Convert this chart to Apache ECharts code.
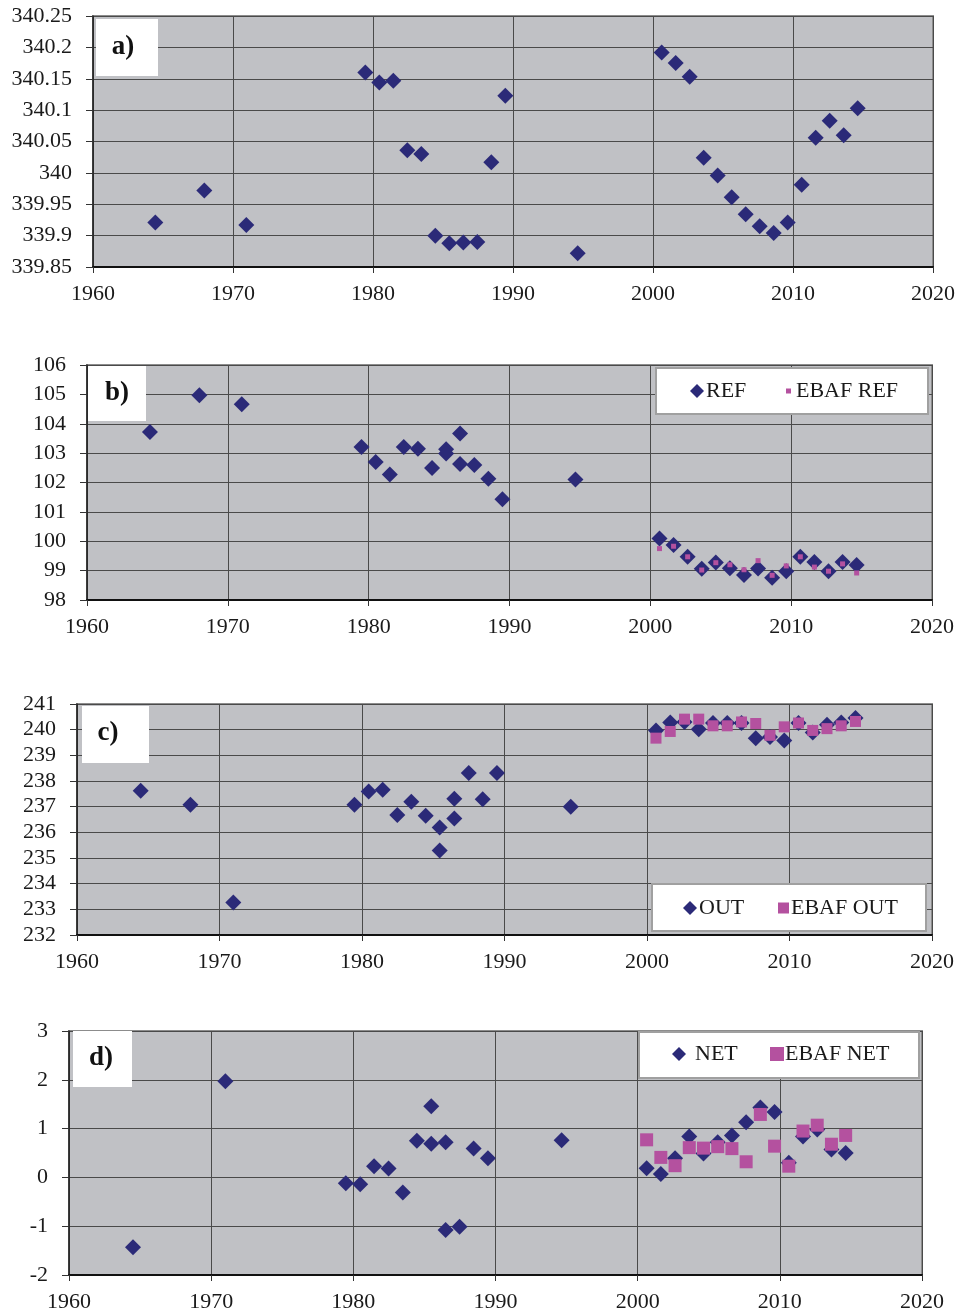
<!DOCTYPE html>
<html>
<head>
<meta charset="utf-8">
<script src="https://cdn.jsdelivr.net/npm/echarts@6/dist/echarts.min.js"></script>
<style>
html,body{margin:0;padding:0;background:#fff;}
#chart{width:964px;height:1314px;}
</style>
</head>
<body>
<div id="chart"></div>
<script>
// ---------- data ----------
const yearsA = [1964.45, 1967.95, 1970.95, 1979.45, 1980.45, 1981.45, 1982.45, 1983.45, 1984.45, 1985.45, 1986.45, 1987.45, 1988.45, 1989.45, 1994.62,
  2000.62, 2001.62, 2002.62, 2003.62, 2004.62, 2005.62, 2006.62, 2007.62, 2008.62, 2009.62, 2010.62, 2011.62, 2012.62, 2013.62, 2014.62];
const refA = [339.921, 339.972, 339.917, 340.160, 340.144, 340.147, 340.036, 340.030, 339.900, 339.888, 339.889, 339.890, 340.017, 340.123, 339.872,
  340.192, 340.175, 340.153, 340.024, 339.996, 339.961, 339.934, 339.915, 339.904, 339.921, 339.981, 340.056, 340.083, 340.060, 340.103];

const yearsB = [1964.47, 1967.98, 1970.99, 1979.49, 1980.5, 1981.5, 1982.49, 1983.5, 1984.5, 1985.5, 1985.5, 1986.49, 1986.49, 1987.5, 1988.5, 1989.5, 1994.68,
  2000.65, 2001.65, 2002.65, 2003.65, 2004.65, 2005.65, 2006.65, 2007.65, 2008.65, 2009.65, 2010.65, 2011.65, 2012.65, 2013.65, 2014.65];
const refB = [103.72, 104.97, 104.66, 103.21, 102.70, 102.27, 103.21, 103.15, 102.49, 103.13, 102.99, 103.67, 102.63, 102.60, 102.13, 101.43, 102.10,
  100.09, 99.87, 99.47, 99.06, 99.28, 99.08, 98.85, 99.07, 98.76, 98.98, 99.47, 99.29, 98.98, 99.29, 99.19];
const ebafYearsB = [2000.65, 2001.65, 2002.65, 2003.65, 2004.65, 2005.65, 2006.65, 2007.65, 2008.65, 2009.65, 2010.65, 2011.65, 2012.65, 2013.65, 2014.65];
const ebafRefB = [99.75, 99.83, 99.47, 99.02, 99.27, 99.20, 99.03, 99.34, 98.84, 99.16, 99.47, 99.12, 98.98, 99.23, 98.92];

const yearsC = [1964.47, 1967.96, 1970.97, 1979.47, 1980.47, 1981.45, 1982.48, 1983.46, 1984.47, 1985.45, 1985.45, 1986.48, 1986.48, 1987.49, 1988.47, 1989.47, 1994.65,
  2000.63, 2001.63, 2002.63, 2003.63, 2004.63, 2005.63, 2006.63, 2007.63, 2008.63, 2009.63, 2010.63, 2011.63, 2012.63, 2013.63, 2014.63];
const outC = [237.62, 237.07, 233.27, 237.07, 237.59, 237.66, 236.68, 237.19, 236.65, 236.19, 235.29, 237.31, 236.54, 238.31, 237.29, 238.31, 237.00,
  239.97, 240.28, 240.30, 240.02, 240.26, 240.26, 240.26, 239.67, 239.71, 239.58, 240.26, 239.89, 240.19, 240.28, 240.45];
const ebafYearsC = [2000.63, 2001.63, 2002.63, 2003.63, 2004.63, 2005.63, 2006.63, 2007.63, 2008.63, 2009.63, 2010.63, 2011.63, 2012.63, 2013.63, 2014.63];
const ebafOutC = [239.67, 239.93, 240.41, 240.41, 240.15, 240.15, 240.30, 240.24, 239.78, 240.11, 240.26, 239.97, 240.04, 240.15, 240.32];

const yearsD = [1964.5, 1971.0, 1979.47, 1980.48, 1981.46, 1982.48, 1983.48, 1984.47, 1985.48, 1985.48, 1986.49, 1986.49, 1987.47, 1988.46, 1989.47, 1994.65,
  2000.63, 2001.63, 2002.63, 2003.63, 2004.63, 2005.63, 2006.63, 2007.63, 2008.63, 2009.63, 2010.63, 2011.63, 2012.63, 2013.63, 2014.63];
const netD = [-1.43, 1.97, -0.12, -0.14, 0.23, 0.18, -0.31, 0.75, 1.46, 0.69, 0.72, -1.08, -1.01, 0.59, 0.39, 0.76,
  0.19, 0.07, 0.39, 0.84, 0.49, 0.72, 0.86, 1.13, 1.43, 1.34, 0.30, 0.84, 0.98, 0.57, 0.50];
const ebafYearsD = [2000.63, 2001.63, 2002.63, 2003.63, 2004.63, 2005.63, 2006.63, 2007.63, 2008.63, 2009.63, 2010.63, 2011.63, 2012.63, 2013.63, 2014.63];
const ebafNetD = [0.77, 0.41, 0.24, 0.61, 0.60, 0.63, 0.59, 0.32, 1.29, 0.64, 0.23, 0.95, 1.07, 0.68, 0.86];

const panelLabels = ['a)', 'b)', 'c)', 'd)'];
const yRanges = [[339.85, 340.25, 0.05], [98, 106, 1], [232, 241, 1], [-2, 3, 1]];
const xRange = [1960, 2020, 10];

// ---------- styling ----------
const NAVY = '#2b2a78';
const MAGENTA = '#b4519f';
const BG = '#c0c1c5';
const FONT = '"Liberation Serif", "Times New Roman", serif';

const grids = [
  {left: 93, right: 31, top: 16, height: 251},
  {left: 87, right: 32, top: 365, height: 235},
  {left: 77, right: 32, top: 704, height: 231},
  {left: 69, right: 42, top: 1031, height: 244}
];

function pairs(xs, ys) { return xs.map((x, i) => [x, ys[i]]); }

const option = {
  animation: false,
  backgroundColor: '#ffffff',
  grid: grids.map(g => Object.assign({show: true, backgroundColor: BG, borderColor: '#8c8c8c', borderWidth: 2}, g)),
  xAxis: grids.map((g, i) => ({
    type: 'value', gridIndex: i, min: xRange[0], max: xRange[1], interval: xRange[2],
    axisLine: {show: true, onZero: false, lineStyle: {color: '#111', width: 2}},
    axisTick: {show: true, inside: false, length: 6, lineStyle: {color: '#333'}},
    splitLine: {show: true, lineStyle: {color: '#4a4a4a', width: 1}},
    axisLabel: {color: '#1a1a1a', fontFamily: FONT, fontSize: 22, margin: 16, formatter: v => String(v)}
  })),
  yAxis: grids.map((g, i) => ({
    type: 'value', gridIndex: i, min: yRanges[i][0], max: yRanges[i][1], interval: yRanges[i][2],
    axisLine: {show: true, onZero: false, lineStyle: {color: '#222', width: 1.5}},
    axisTick: {show: true, inside: false, length: 7, lineStyle: {color: '#333'}},
    splitLine: {show: true, lineStyle: {color: '#4a4a4a', width: 1}},
    axisLabel: {color: '#1a1a1a', fontFamily: FONT, fontSize: 22, margin: 21}
  })),
  legend: [
    {data: [{name: 'REF', icon: 'diamond'}], left: 690, top: 380, itemWidth: 14, itemHeight: 14, padding: 0, selectedMode: false,
      textStyle: {fontFamily: FONT, fontSize: 22, color: '#1a1a1a', padding: [0, 0, 0, -3]}},
    {data: [{name: 'EBAF REF', icon: 'rect'}], left: 786, top: 380, itemWidth: 5, itemHeight: 5, padding: 0, selectedMode: false,
      textStyle: {fontFamily: FONT, fontSize: 22, color: '#1a1a1a'}},
    {data: [{name: 'OUT', icon: 'diamond'}], left: 683, top: 897, itemWidth: 14, itemHeight: 14, padding: 0, selectedMode: false,
      textStyle: {fontFamily: FONT, fontSize: 22, color: '#1a1a1a', padding: [0, 0, 0, -3]}},
    {data: [{name: 'EBAF OUT', icon: 'rect'}], left: 778, top: 897, itemWidth: 11, itemHeight: 11, padding: 0, selectedMode: false,
      textStyle: {fontFamily: FONT, fontSize: 22, color: '#1a1a1a', padding: [0, 0, 0, -3]}},
    {data: [{name: 'NET', icon: 'diamond'}], left: 672, top: 1043, itemWidth: 14, itemHeight: 14, padding: 0, selectedMode: false,
      textStyle: {fontFamily: FONT, fontSize: 22, color: '#1a1a1a', padding: [0, 0, 0, 4]}},
    {data: [{name: 'EBAF NET', icon: 'rect'}], left: 770, top: 1043, itemWidth: 14, itemHeight: 14, padding: 0, selectedMode: false,
      textStyle: {fontFamily: FONT, fontSize: 22, color: '#1a1a1a', padding: [0, 0, 0, -4]}}
  ],
  series: [
    {name: 'REF a', type: 'scatter', xAxisIndex: 0, yAxisIndex: 0, symbol: 'diamond', symbolSize: 16,
      itemStyle: {color: NAVY, opacity: 1}, data: pairs(yearsA, refA)},
    {name: 'REF', type: 'scatter', xAxisIndex: 1, yAxisIndex: 1, symbol: 'diamond', symbolSize: 16,
      itemStyle: {color: NAVY, opacity: 1}, data: pairs(yearsB, refB)},
    {name: 'EBAF REF', type: 'scatter', xAxisIndex: 1, yAxisIndex: 1, symbol: 'rect', symbolSize: 5,
      itemStyle: {color: MAGENTA, opacity: 1}, data: pairs(ebafYearsB, ebafRefB)},
    {name: 'OUT', type: 'scatter', xAxisIndex: 2, yAxisIndex: 2, symbol: 'diamond', symbolSize: 16,
      itemStyle: {color: NAVY, opacity: 1}, data: pairs(yearsC, outC)},
    {name: 'EBAF OUT', type: 'scatter', xAxisIndex: 2, yAxisIndex: 2, symbol: 'rect', symbolSize: 11,
      itemStyle: {color: MAGENTA, opacity: 1}, data: pairs(ebafYearsC, ebafOutC)},
    {name: 'NET', type: 'scatter', xAxisIndex: 3, yAxisIndex: 3, symbol: 'diamond', symbolSize: 16,
      itemStyle: {color: NAVY, opacity: 1}, data: pairs(yearsD, netD)},
    {name: 'EBAF NET', type: 'scatter', xAxisIndex: 3, yAxisIndex: 3, symbol: 'rect', symbolSize: 13,
      itemStyle: {color: MAGENTA, opacity: 1}, data: pairs(ebafYearsD, ebafNetD)}
  ],
  graphic: [
    // panel label boxes
    {type: 'rect', z: 50, shape: {x: 96, y: 19, width: 62, height: 57}, style: {fill: '#fff'}},
    {type: 'text', z: 51, x: 123, y: 47, style: {text: panelLabels[0], font: 'bold 27px ' + FONT, fill: '#111', align: 'center', verticalAlign: 'middle'}},
    {type: 'rect', z: 50, shape: {x: 88, y: 366, width: 58, height: 55}, style: {fill: '#fff'}},
    {type: 'text', z: 51, x: 117, y: 393, style: {text: panelLabels[1], font: 'bold 27px ' + FONT, fill: '#111', align: 'center', verticalAlign: 'middle'}},
    {type: 'rect', z: 50, shape: {x: 82, y: 706, width: 67, height: 57}, style: {fill: '#fff'}},
    {type: 'text', z: 51, x: 108, y: 733, style: {text: panelLabels[2], font: 'bold 27px ' + FONT, fill: '#111', align: 'center', verticalAlign: 'middle'}},
    {type: 'rect', z: 50, shape: {x: 73, y: 1031, width: 59, height: 56}, style: {fill: '#fff'}},
    {type: 'text', z: 51, x: 101, y: 1058, style: {text: panelLabels[3], font: 'bold 27px ' + FONT, fill: '#111', align: 'center', verticalAlign: 'middle'}},
    // legend boxes
    {type: 'rect', z: 1, shape: {x: 656, y: 368, width: 272, height: 46}, style: {fill: '#fff', stroke: '#a0a0a0', lineWidth: 2}},
    {type: 'rect', z: 1, shape: {x: 652, y: 884, width: 274, height: 47}, style: {fill: '#fff', stroke: '#a0a0a0', lineWidth: 2}},
    {type: 'rect', z: 1, shape: {x: 639, y: 1032, width: 280, height: 46}, style: {fill: '#fff', stroke: '#a0a0a0', lineWidth: 2}}
  ]
};

const chart = echarts.init(document.getElementById('chart'), null, {renderer: 'canvas'});
chart.setOption(option);
</script>
</body>
</html>
